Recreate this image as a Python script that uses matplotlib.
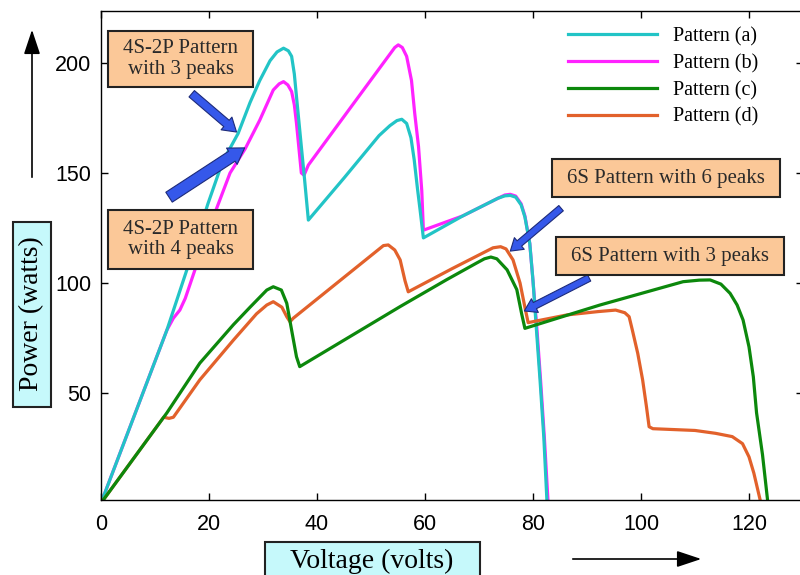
import numpy as np
import matplotlib.pyplot as plt
from matplotlib.patches import Rectangle, FancyArrowPatch

#### DATA ####

# pattern (a) - 4S-2P, 3 peaks
volt_a = [0, 12.2, 15.9, 19.8, 22.5, 25.4, 27.6, 29.4, 31.3, 32.6, 33.8, 34.7, 35.3,
          35.8, 36.2, 37.1, 37.7, 38.4, 45, 51.5, 53.5, 54.8, 55.7, 56.6, 57.4, 58.0, 58.6,
          59.1, 59.7, 67, 73.5, 74.8, 75.8, 76.8, 77.8, 78.5, 79.4, 80.0, 80.6, 81.3, 82.0,
          82.6]
pow_a = [0, 78.6, 106, 136, 155, 168, 182, 192, 201, 205, 206.7, 205.5, 203,
         195, 184.7, 162, 147, 128.6, 147.7, 167, 171.5, 173.8, 174.4, 172.5, 166, 156,
         143, 133, 120.5, 130.5, 138.5, 139.6, 139.8, 139, 135.5, 130, 118, 101, 80, 56, 30,
         0]

# pattern (b) - 4S-2P, 4 peaks
volt_b = [0, 12.2, 13.4, 14.6, 15.6, 17.4, 20.5, 23.9, 26.7, 29.4, 31.9, 33.0, 33.8,
          34.6, 35.3, 35.8, 36.2, 37.1, 37.6, 38.4, 46, 53.5, 54.4, 55.05, 55.8, 56.6, 57.5,
          58.1, 58.8, 59.4, 59.7, 67, 73.5, 74.8, 75.8, 76.8, 77.8, 78.5, 79.4, 80.0, 80.7,
          81.4, 82.1, 82.8]
pow_b = [0, 78.6, 84, 87.7, 93, 106, 128, 150, 161, 174, 187.7, 190.5, 191.5,
         190, 187, 181, 172.6, 150, 149, 153.6, 179, 204, 207, 208.2, 207, 203, 192,
         177, 162, 142, 124, 130.5, 138.5, 140, 140.3, 139.5, 136, 130.5, 118, 101, 80,
         56, 30, 0]

# pattern (c) - 6S, 3 peaks
volt_c = [0, 12.2, 18.3, 24.5, 27.6, 30.7, 31.9, 33.4, 34.4, 35.3, 36.2, 36.8, 55.4,
          64, 69.5, 71.0, 72.2, 73.3, 75.2, 77.0, 77.9, 78.5, 92.4, 107.8, 110.8, 112.8,
          114.8, 116.5, 117.8, 118.9, 120.0, 120.8, 121.4, 122.5, 123.5]
pow_c = [0, 41, 63.6, 81, 89, 96.8, 98.3, 96.8, 90.8, 78.6, 66.5, 62, 89.3,
         101.5, 109, 111, 111.8, 111, 106, 97, 86, 79.4, 90, 100.6, 101.3, 101.4,
         99.5, 95.3, 90, 83.2, 71, 57.4, 41, 22, 0]

# pattern (d) - 6S, 6 peaks
volt_d = [0, 11.6, 12.6, 13.4, 18.3, 24.5, 28.8, 30.7, 31.9, 33.5, 34.4, 35.0, 35.6, 52.3,
          53.2, 54.4, 55.4, 56.3, 56.9, 65, 72.6, 74.0, 75.0, 76.3, 77.6, 78.5, 79.1, 86.3,
          92, 95.3, 97.0, 97.8, 98.4, 99.4, 100.3, 101.0, 101.5, 102.2, 110, 113.8, 116.9,
          118.8, 120.0, 120.9, 122.2]
pow_d = [0, 39, 38.5, 39, 56, 74, 86, 90, 91.5, 89, 84.7, 82.4, 84, 117,
         117.3, 115, 110.5, 101, 96, 106.5, 116, 116.5, 115.5, 110.5, 100, 89, 82, 85.5,
         87, 87.7, 86.5, 84.7, 78.6, 68, 56, 44, 34.7, 33.8, 33, 31.7, 30.2,
         27, 21, 13.6, 0]

labels = ['Pattern (a)', 'Pattern (b)', 'Pattern (c)', 'Pattern (d)']
colors = ['#22c4c6', '#ff22ff', '#0c880c', '#e2612b']
x_ticks = [0, 20, 40, 60, 80, 100, 120]
y_ticks = [50, 100, 150, 200]

# notes: text, tip (volt, power), tail (volt, power), box in pixels
notes = [
    ('4S-2P Pattern\nwith 3 peaks', (25.1, 168.6), (16.8, 186), (108, 31, 253, 87)),
    ('4S-2P Pattern\nwith 4 peaks', (26.6, 161.4), (12.6, 139), (108, 210, 253, 269)),
    ('6S Pattern with 6 peaks', (75.8, 114.5), (85.2, 134), (552, 159, 780, 197)),
    ('6S Pattern with 3 peaks', (78.4, 87.3), (90.4, 102.3), (556, 237, 784, 275)),
]
arrow_sizes = [(9.5, 12, 6), (11, 14, 8.5), (8.5, 11, 5), (8.5, 11, 5)]

#### PLOT ####

W, H = 800, 575


def fx(x):
    return x / W


def fy(y):
    return 1 - y / H


fig = plt.figure(figsize=(8, 5.75), dpi=100)
ax = fig.add_axes([fx(101), fy(500), 702 / W, 489 / H])

# draw b under a, d under c, as in the original
lines = {}
lines['b'], = ax.plot(volt_b, pow_b, color=colors[1], lw=2.3, label=labels[1])
lines['a'], = ax.plot(volt_a, pow_a, color=colors[0], lw=2.3, label=labels[0])
lines['d'], = ax.plot(volt_d, pow_d, color=colors[3], lw=2.3, label=labels[3])
lines['c'], = ax.plot(volt_c, pow_c, color=colors[2], lw=2.3, label=labels[2])

ax.set_xlim(0, 130)
ax.set_ylim(1.4, 223.6)
ax.set_xticks(x_ticks)
ax.set_yticks(y_ticks)
ax.tick_params(direction='in', length=5, width=1, top=True, right=True,
               labelsize=15.5)
ax.tick_params(axis='x', pad=10)
ax.tick_params(axis='y', pad=7)
for lab in ax.get_xticklabels() + ax.get_yticklabels():
    lab.set_fontfamily('Liberation Sans')
for sp in ax.spines.values():
    sp.set_linewidth(1.0)

leg = ax.legend([lines[k] for k in 'abcd'], labels, loc='upper left',
                bbox_to_anchor=(fx(568), fy(27)), bbox_transform=fig.transFigure,
                frameon=False, borderpad=0, borderaxespad=0, handlelength=4.4,
                handletextpad=0.8, labelspacing=0.38,
                prop={'family': 'Liberation Serif', 'size': 14.5})

# annotation boxes and arrows
for (txt, tip, tail, box), (hl, hw, tw) in zip(notes, arrow_sizes):
    x0, y0, x1, y1 = box
    fig.patches.append(Rectangle((fx(x0), fy(y1)), (x1 - x0) / W, (y1 - y0) / H,
                                 transform=fig.transFigure, fc='#fbc898', ec='#222222',
                                 lw=1.5, zorder=5))
    fig.text(fx((x0 + x1) / 2), fy((y0 + y1) / 2), txt, ha='center', va='center',
             family='Liberation Serif', fontsize=15, color='#2a2a2a',
             linespacing=1.1, zorder=6)
    ax.annotate('', xy=tip, xytext=tail, annotation_clip=False,
                arrowprops=dict(arrowstyle='simple,head_length=%g,head_width=%g,tail_width=%g'
                                % (hl, hw, tw), mutation_scale=1, fc='#3558ea',
                                ec='#1d2b7a', lw=0.8, shrinkA=0, shrinkB=0))

# axis labels in cyan boxes
fig.patches.append(Rectangle((fx(13), fy(407)), 38 / W, 185 / H, transform=fig.transFigure,
                             fc='#c6f9fb', ec='#222222', lw=1.5))
fig.text(fx(32), fy(314), 'Power (watts)', rotation=90, ha='center', va='center',
         family='Liberation Serif', fontsize=20)
fig.patches.append(Rectangle((fx(265), fy(578)), 215 / W, 36 / H, transform=fig.transFigure,
                             fc='#c6f9fb', ec='#222222', lw=1.5))
fig.text(fx(372), fy(561), 'Voltage (volts)', ha='center', va='center',
         family='Liberation Serif', fontsize=20)

# direction arrows
fig.patches.append(FancyArrowPatch((fx(32), fy(180)), (fx(32), fy(27)),
                                   transform=fig.transFigure, mutation_scale=1,
                                   arrowstyle='-|>,head_length=15,head_width=5',
                                   color='black', lw=1.2))
fig.patches.append(FancyArrowPatch((fx(570), fy(559)), (fx(704), fy(559)),
                                   transform=fig.transFigure, mutation_scale=1,
                                   arrowstyle='-|>,head_length=15,head_width=5',
                                   color='black', lw=1.2))

plt.savefig('out.png', dpi=100)
plt.close()
